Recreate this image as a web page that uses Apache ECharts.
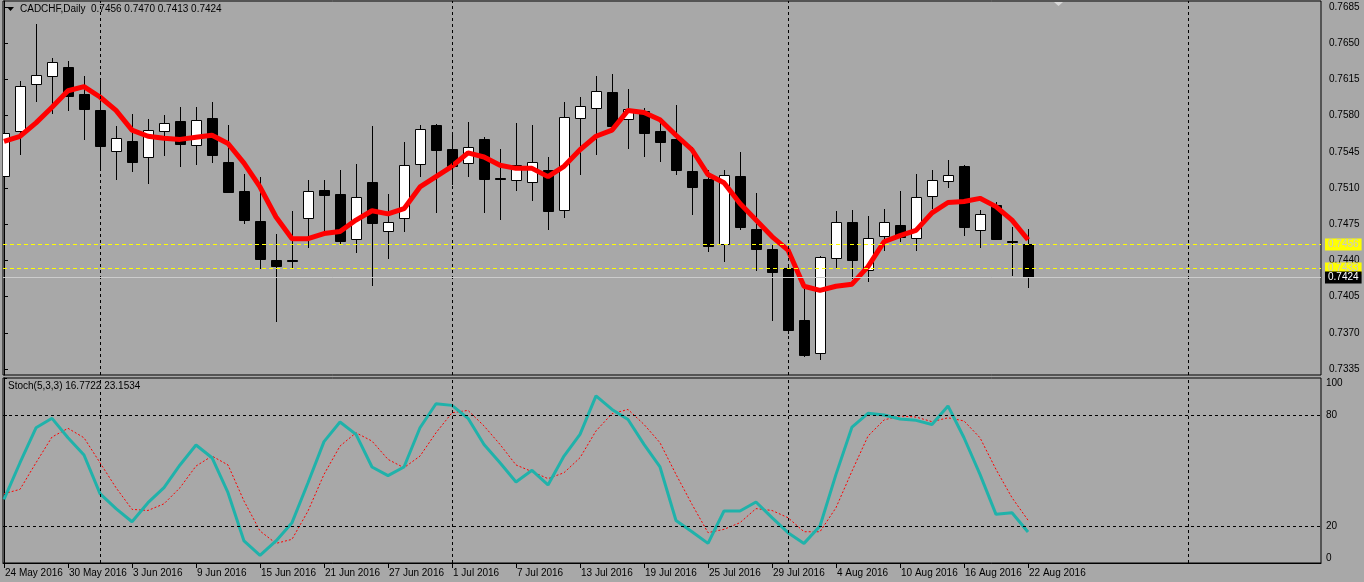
<!DOCTYPE html>
<html><head><meta charset="utf-8">
<script src="https://cdn.jsdelivr.net/npm/echarts@6/dist/echarts.min.js"></script>
<style>html,body{margin:0;padding:0;background:#a8a8a8;}#chart{width:1364px;height:582px;}</style>
</head><body><div id="chart"></div>
<script>
// ---------- data ----------
const opens  = [0.7522,0.7565,0.7611,0.7618,0.7627,0.7601,0.7585,0.7546,0.7555,0.7540,0.7565,0.7575,0.7552,0.7578,0.7535,0.7507,0.7478,0.7440,0.7440,0.7481,0.7508,0.7504,0.7461,0.7516,0.7468,0.7481,0.7533,0.7571,0.7548,0.7534,0.7557,0.7520,0.7518,0.7516,0.7527,0.7489,0.7578,0.7587,0.7603,0.7577,0.7584,0.7565,0.7557,0.7526,0.7519,0.7456,0.7522,0.7470,0.7451,0.7433,0.7382,0.7350,0.7442,0.7477,0.7431,0.7464,0.7474,0.7462,0.7502,0.7517,0.7531,0.7469,0.7494,0.7459,0.7456];
const highs  = [0.7580,0.7613,0.7669,0.7636,0.7633,0.7618,0.7615,0.7570,0.7582,0.7577,0.7581,0.7588,0.7588,0.7593,0.7571,0.7524,0.7521,0.7466,0.7488,0.7518,0.7518,0.7527,0.7533,0.7570,0.7504,0.7554,0.7571,0.7572,0.7563,0.7574,0.7559,0.7548,0.7573,0.7571,0.7540,0.7593,0.7598,0.7618,0.7620,0.7606,0.7587,0.7577,0.7590,0.7550,0.7527,0.7527,0.7545,0.7505,0.7455,0.7436,0.7415,0.7444,0.7488,0.7489,0.7483,0.7490,0.7507,0.7524,0.7527,0.7537,0.7532,0.7489,0.7496,0.7472,0.7470];
const lows   = [0.7507,0.7542,0.7593,0.7582,0.7584,0.7556,0.7526,0.7518,0.7525,0.7514,0.7541,0.7530,0.7532,0.7534,0.7505,0.7475,0.7432,0.7380,0.7432,0.7452,0.7466,0.7456,0.7447,0.7415,0.7441,0.7467,0.7521,0.7486,0.7513,0.7521,0.7486,0.7479,0.7507,0.7497,0.7469,0.7481,0.7523,0.7542,0.7564,0.7548,0.7540,0.7535,0.7523,0.7484,0.7448,0.7438,0.7469,0.7430,0.7381,0.7369,0.7347,0.7344,0.7432,0.7422,0.7419,0.7449,0.7458,0.7449,0.7490,0.7510,0.7464,0.7452,0.7460,0.7425,0.7413];
const closes = [0.7563,0.7609,0.7619,0.7632,0.7599,0.7586,0.7551,0.7558,0.7535,0.7566,0.7573,0.7553,0.7576,0.7542,0.7506,0.7479,0.7441,0.7435,0.7439,0.7507,0.7503,0.7459,0.7501,0.7476,0.7477,0.7532,0.7567,0.7547,0.7531,0.7550,0.7519,0.7519,0.7532,0.7535,0.7488,0.7579,0.7589,0.7604,0.7570,0.7586,0.7563,0.7554,0.7527,0.7511,0.7454,0.7523,0.7472,0.7451,0.7429,0.7373,0.7349,0.7443,0.7477,0.7440,0.7462,0.7477,0.7463,0.7501,0.7518,0.7523,0.7472,0.7485,0.7461,0.7458,0.7424];
const maValues = [0.7555,0.7560,0.7573,0.7588,0.7604,0.7608,0.7598,0.7585,0.7566,0.7560,0.7558,0.7557,0.7559,0.7561,0.7553,0.7534,0.7511,0.7482,0.7461,0.7461,0.7466,0.7468,0.7479,0.7488,0.7485,0.7490,0.7511,0.7521,0.7531,0.7544,0.7540,0.7532,0.7529,0.7529,0.7521,0.7531,0.7547,0.7560,0.7566,0.7585,0.7583,0.7576,0.7561,0.7547,0.7523,0.7515,0.7495,0.7479,0.7463,0.7450,0.7415,0.7411,0.7415,0.7417,0.7434,0.7458,0.7464,0.7469,0.7486,0.7496,0.7497,0.7500,0.7492,0.7479,0.7460];
const stochK = [34.4,54.2,73.1,78.2,67.7,58.4,37.5,29.4,22.3,32.6,40.7,53.0,63.8,56.9,38.0,11.9,4.1,11.9,21.8,43.4,65.6,76.2,69.5,51.9,47.2,51.9,73.1,86.1,85.2,78.2,64.1,54.2,43.8,50.1,42.2,57.8,69.5,90.3,83.0,77.6,64.1,51.9,23.0,16.9,10.6,28.1,28.1,33.0,24.5,16.4,10.6,20.0,47.9,73.5,80.9,80.0,77.8,77.1,74.9,84.9,67.7,47.9,26.3,27.2,16.7722];
const stochD = [37.5,39.8,54.2,68.1,72.8,67.7,54.2,40.7,29.0,28.4,32.0,40.7,52.4,57.8,53.0,33.5,17.3,10.6,12.8,28.1,47.9,63.2,70.4,65.9,56.0,51.5,57.8,70.4,81.2,82.5,74.1,64.1,53.0,49.4,45.6,48.8,56.9,71.4,80.7,83.0,74.9,65.0,47.9,31.7,16.4,18.2,21.8,29.4,28.4,24.5,16.9,16.9,29.9,49.7,68.6,77.3,79.5,78.9,76.4,78.5,76.8,67.7,50.6,35.3,23.1534];
const tickLabels = ['24 May 2016','30 May 2016','3 Jun 2016','9 Jun 2016','15 Jun 2016','21 Jun 2016','27 Jun 2016','1 Jul 2016','7 Jul 2016','13 Jul 2016','19 Jul 2016','25 Jul 2016','29 Jul 2016','4 Aug 2016','10 Aug 2016','16 Aug 2016','22 Aug 2016'];
const tickIndex = [0,4,8,12,16,20,24,28,32,36,40,44,48,52,56,60,64];
const priceTicks = [0.7335,0.7370,0.7405,0.7440,0.7475,0.7510,0.7545,0.7580,0.7615,0.7650,0.7685];
const stochTicks = [0,20,80,100];
const stochLevels = [80,20];
const separators = [6,28,49,74];
const yellowLevels = [0.7456,0.7433];
const lastPrice = 0.7424;
const symbolName = 'CADCHF,Daily';
const stochName = 'Stoch(5,3,3)';

// ---------- build ----------
const FONT = 'Liberation Sans';
const X_MIN = -0.0625, X_MAX = 82.3125;
const candleData = opens.map((o, i) => [i, o, closes[i], lows[i], highs[i]]);
const maData = maValues.map((v, i) => [i, v]);
const kData = stochK.map((v, i) => [i, v]);
const dData = stochD.map((v, i) => [i, v]);
const levelData = yellowLevels.map(v => [0, v, 0]).concat([[0, lastPrice, 1]]);
const last = opens.length - 1;

function renderCandle(params, api) {
  const i = api.value(0), o = api.value(1), c = api.value(2), l = api.value(3), h = api.value(4);
  const pO = api.coord([i, o]), pC = api.coord([i, c]), pL = api.coord([i, l]), pH = api.coord([i, h]);
  const cx = Math.floor(pO[0]) + 0.5;
  const bw = Math.round(api.size([1, 0])[0] * 0.6);
  const top = Math.round(Math.min(pO[1], pC[1])) + 0.5;
  const bot = Math.round(Math.max(pO[1], pC[1])) + 0.5;
  const up = c > o;
  return { type: 'group', children: [
    { type: 'line', shape: { x1: cx, y1: Math.round(pH[1]), x2: cx, y2: Math.round(pL[1]) }, style: { stroke: '#000', lineWidth: 1 } },
    { type: 'rect', shape: { x: cx - bw / 2, y: top, width: bw, height: bot - top }, style: { fill: up ? '#fff' : '#000', stroke: '#000', lineWidth: 1 } }
  ]};
}

function renderLevel(params, api) {
  const v = api.value(1), kind = api.value(2);
  const cs = params.coordSys;
  const y = Math.round(api.coord([0, v])[1]) + 0.5;
  const yellow = kind === 0;
  return { type: 'group', children: [
    { type: 'line', shape: { x1: cs.x, y1: y, x2: cs.x + cs.width, y2: y },
      style: { stroke: yellow ? '#ffff00' : '#cccccc', lineWidth: 1, lineDash: yellow ? [4, 3] : null } },
    { type: 'text', x: cs.x + cs.width + 4, y: y,
      style: { text: v.toFixed(4), fill: yellow ? '#c8c8c8' : '#ffffff', backgroundColor: yellow ? '#ffff00' : '#000000',
        padding: [1, 3, 0, 3], font: '10px ' + FONT, verticalAlign: 'middle', align: 'left', lineHeight: 11 } }
  ]};
}

const chart = echarts.init(document.getElementById('chart'), null, { renderer: 'canvas' });
const txt = { color: '#000', fontSize: 10, fontFamily: FONT };

chart.setOption({
  animation: false,
  backgroundColor: '#a8a8a8',
  grid: [
    { left: 3, top: 1, width: 1318, height: 374, show: true, borderColor: '#000', borderWidth: 1, backgroundColor: 'transparent' },
    { left: 3, top: 378, width: 1318, height: 185, show: true, borderColor: '#000', borderWidth: 1, backgroundColor: 'transparent' }
  ],
  xAxis: [
    { type: 'value', gridIndex: 0, min: X_MIN, max: X_MAX, show: false, splitLine: { show: false } },
    { type: 'value', gridIndex: 1, min: X_MIN, max: X_MAX, splitLine: { show: false },
      axisLine: { show: true, lineStyle: { color: '#000' } },
      axisTick: { show: true, customValues: tickIndex, length: 5, lineStyle: { color: '#000' } },
      axisLabel: { customValues: tickIndex, formatter: v => tickLabels[tickIndex.indexOf(Math.round(v))] || '', align: 'left', padding: [0, 0, 0, 1], margin: 5, ...txt } }
  ],
  yAxis: [
    { type: 'value', gridIndex: 0, position: 'right', min: 0.73292, max: 0.76908, splitLine: { show: false },
      axisLine: { show: true, lineStyle: { color: '#000' } },
      axisTick: { show: true, customValues: priceTicks, length: 4, lineStyle: { color: '#000' } },
      axisLabel: { customValues: priceTicks, formatter: v => v.toFixed(4), margin: 8, ...txt } },
    { type: 'value', gridIndex: 1, position: 'right', min: 0, max: 100, splitLine: { show: false },
      axisLine: { show: true, lineStyle: { color: '#000' } },
      axisTick: { show: true, customValues: stochTicks, length: 3, lineStyle: { color: '#000' } },
      axisLabel: { customValues: stochTicks, margin: 5, verticalAlignMinLabel: 'bottom', verticalAlignMaxLabel: 'top', ...txt } }
  ],
  series: [
    { type: 'line', xAxisIndex: 0, yAxisIndex: 0, data: [], z: 1, silent: true,
      markLine: { silent: true, symbol: ['none', 'none'], label: { show: false }, precision: 4,
        lineStyle: { color: '#000', type: [3, 3], width: 1 },
        data: separators.map(v => ({ xAxis: v })) } },
    { type: 'custom', xAxisIndex: 0, yAxisIndex: 0, data: candleData, renderItem: renderCandle, clip: true, z: 2, silent: true },
    { type: 'line', xAxisIndex: 0, yAxisIndex: 0, data: maData, z: 3, showSymbol: false, silent: true,
      lineStyle: { color: '#ff0000', width: 5 } },
    { type: 'custom', xAxisIndex: 0, yAxisIndex: 0, data: levelData, renderItem: renderLevel, clip: false, z: 5, silent: true },
    { type: 'line', xAxisIndex: 1, yAxisIndex: 1, data: [], z: 1, silent: true,
      markLine: { silent: true, symbol: ['none', 'none'], label: { show: false }, precision: 4,
        lineStyle: { color: '#000', type: [3, 3], width: 1 },
        data: separators.map(v => ({ xAxis: v })).concat(stochLevels.map(v => ({ yAxis: v }))) } },
    { type: 'line', xAxisIndex: 1, yAxisIndex: 1, data: dData, z: 3, showSymbol: false, silent: true,
      lineStyle: { color: '#ff0000', width: 1, type: [2, 2] } },
    { type: 'line', xAxisIndex: 1, yAxisIndex: 1, data: kData, z: 4, showSymbol: false, silent: true,
      lineStyle: { color: '#20b2aa', width: 3 } }
  ],
  graphic: [
    { type: 'polygon', shape: { points: [[7, 7], [14, 7], [10.5, 11]] }, style: { fill: '#000' }, silent: true },
    { type: 'text', left: 20, top: 4, style: { text: symbolName, fill: '#000', fontSize: 10, fontFamily: FONT } },
    { type: 'text', left: 91, top: 4, style: { text: [opens[last], highs[last], lows[last], closes[last]].map(v => v.toFixed(4)).join(' '), fill: '#000', fontSize: 10, fontFamily: FONT } },
    { type: 'text', left: 8, top: 381, style: { text: stochName + ' ' + stochK[last].toFixed(4) + ' ' + stochD[last].toFixed(4), fill: '#000', fontSize: 10, fontFamily: FONT } },
    { type: 'polygon', shape: { points: [[1054, 2], [1063, 2], [1058.5, 6]] }, style: { fill: '#d8d8d8' }, silent: true }
  ]
});
</script>
</body></html>
